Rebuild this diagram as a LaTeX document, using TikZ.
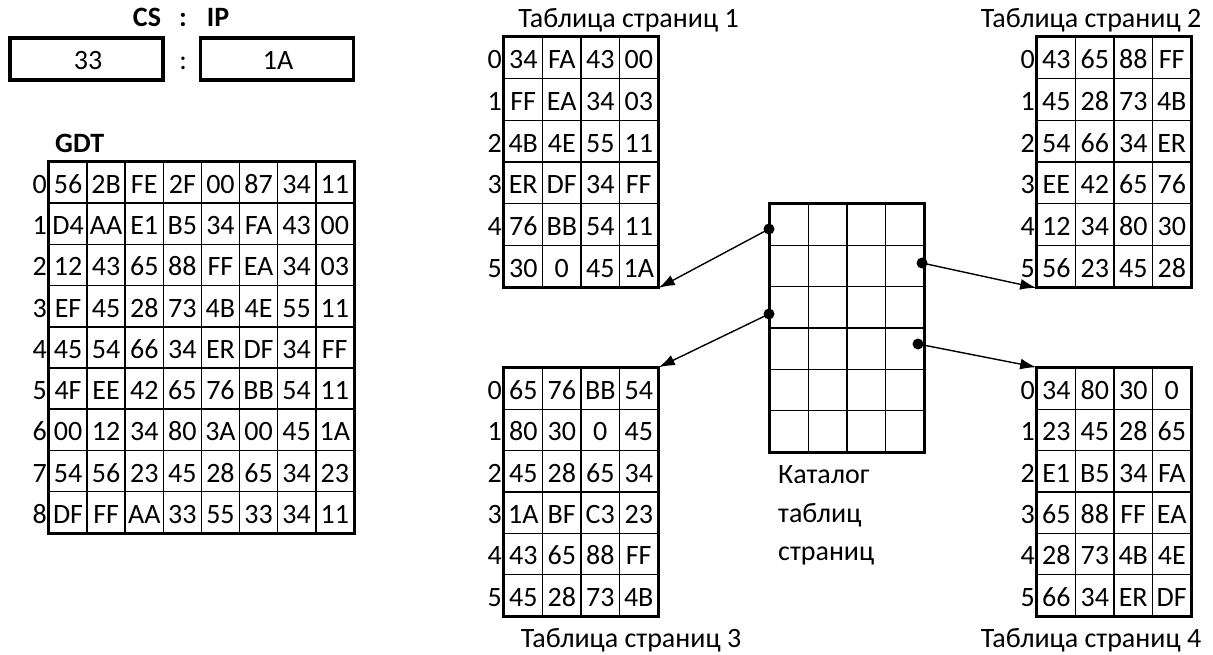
\documentclass[tikz,border=0pt]{standalone}
\usepackage{fontspec}
\setmainfont{Carlito}
\usetikzlibrary{arrows.meta}
\newcommand\ptab[6]{%
  \foreach \rowdata [count=\r from 0] in {#6} {
    \node[rowlbl] (#1-l\r) at (#2, {#3+#5*\r+#5/2}) {\r};
    \foreach \v [count=\c from 0] in \rowdata {
      \node[cell, minimum width=#4 pt, minimum height=#5 pt] (#1-\r-\c) at ({#2+#4/2+#4*\c}, {#3+#5/2+#5*\r}) {\v};
    }
  }
}
\begin{document}
\begin{tikzpicture}[x=1pt,y=-1pt,
  every node/.style={font=\fontsize{28}{33}\selectfont, text=black},
  celltext/.style={text height=22pt, text depth=0pt},
  cell/.style={draw, line width=1.6pt, inner sep=0pt, anchor=center, celltext},
  frame/.style={line width=3.2pt},
  rowlbl/.style={anchor=east, inner sep=2pt, celltext},
  ttl/.style={anchor=base, inner sep=0pt},
  hdr/.style={font=\fontsize{28}{33}\selectfont\bfseries, inner sep=0pt, anchor=base},
  regbox/.style={draw, line width=3.2pt, minimum width=153pt, minimum height=42pt, inner sep=0pt},
  regtext/.style={anchor=base, inner sep=0pt},
  ptr/.style={-{Latex[length=16pt,width=11pt]}, line width=1.4pt},
  dot/.style={circle, fill=black, inner sep=0pt, minimum size=11pt},
  lbl/.style={anchor=base west, inner sep=0pt}
]
\useasboundingbox (0,0) rectangle (1213,655);

% CS : IP
\node[hdr] (cs) at (147,27) {CS};
\node[hdr] (csc) at (183,27) {:};
\node[hdr] (ip) at (218,27) {IP};
\node[regbox] (csbox) at (86.5,59) {};
\node[regbox] (ipbox) at (277,59) {};
\node[regtext] (csval) at (88,70) {33};
\node[regtext] (sep) at (183,70) {:};
\node[regtext] (ipval) at (278,70) {1A};

% GDT
\node[hdr, anchor=base west] (gdt) at (55,153) {GDT};
\ptab{g}{49}{162}{38.1}{41.2}{{56,2B,FE,2F,00,87,34,11},{D4,AA,E1,B5,34,FA,43,00},{12,43,65,88,FF,EA,34,03},{EF,45,28,73,4B,4E,55,11},{45,54,66,34,ER,DF,34,FF},{4F,EE,42,65,76,BB,54,11},{00,12,34,80,3A,00,45,1A},{54,56,23,45,28,65,34,23},{DF,FF,AA,33,55,33,34,11}}
\draw[frame] (g-0-0.north west) rectangle (g-8-7.south east);

% Page table 1
\node[ttl] (t1t) at (628.5,28) {Таблица страниц 1};
\ptab{a}{504}{37}{38.5}{41.67}{{34,FA,43,00},{FF,EA,34,03},{4B,4E,55,11},{ER,DF,34,FF},{76,BB,54,11},{30,0,45,1A}}
\draw[frame] (a-0-0.north west) rectangle (a-5-3.south east);

% Page table 2
\node[ttl] (t2t) at (1091,28) {Таблица страниц 2};
\ptab{b}{1037}{37}{38.5}{41.67}{{43,65,88,FF},{45,28,73,4B},{54,66,34,ER},{EE,42,65,76},{12,34,80,30},{56,23,45,28}}
\draw[frame] (b-0-0.north west) rectangle (b-5-3.south east);

% Page table 3
\node[ttl] (t3t) at (631,647) {Таблица страниц 3};
\ptab{c}{504}{368}{38.5}{41.33}{{65,76,BB,54},{80,30,0,45},{45,28,65,34},{1A,BF,C3,23},{43,65,88,FF},{45,28,73,4B}}
\draw[frame] (c-0-0.north west) rectangle (c-5-3.south east);

% Page table 4
\node[ttl] (t4t) at (1091,647) {Таблица страниц 4};
\ptab{d}{1037}{368}{38.5}{41.33}{{34,80,30,0},{23,45,28,65},{E1,B5,34,FA},{65,88,FF,EA},{28,73,4B,4E},{66,34,ER,DF}}
\draw[frame] (d-0-0.north west) rectangle (d-5-3.south east);

% Catalog
\foreach \r in {0,...,5} {
  \foreach \c in {0,...,3} {
    \node[cell, minimum width=38.5pt, minimum height=41.33pt] (k-\r-\c) at ({770+19.25+38.5*\c}, {204+20.67+41.33*\r}) {};
  }
}
\draw[frame] (k-0-0.north west) rectangle (k-5-3.south east);
\node[lbl] (k1) at (778,483) {Каталог};
\node[lbl] (k2) at (778,522) {таблиц};
\node[lbl] (k3) at (778,560) {страниц};

% pointers
\node[dot] (p1) at (769,229) {};
\node[dot] (p3) at (769,314) {};
\node[dot] (p2) at (922,263) {};
\node[dot] (p4) at (918,344) {};
\draw[ptr] (p1.center) -- (a-5-3.south east);
\draw[ptr] (p3.center) -- (c-0-3.north east);
\draw[ptr] (p2.center) -- (b-5-0.south west);
\draw[ptr] (p4.center) -- (d-0-0.north west);
\end{tikzpicture}
\end{document}
